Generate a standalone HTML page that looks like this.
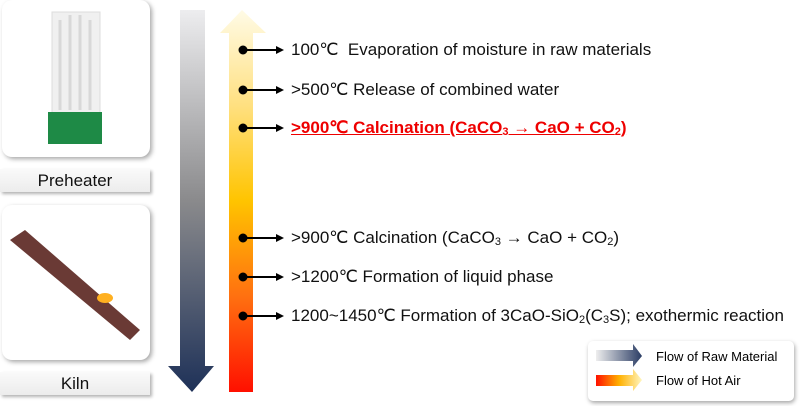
<!DOCTYPE html>
<html><head><meta charset="utf-8"><style>
body{margin:0;width:800px;height:406px;background:#fff;position:relative;overflow:hidden;font-family:"Liberation Sans",sans-serif}
.card{position:absolute;background:#fff;border-radius:10px;box-shadow:2px 2px 5px rgba(0,0,0,.35)}
.lab{position:absolute;background:linear-gradient(#fafafa,#ececec);box-shadow:2px 2px 3px rgba(0,0,0,.3);font-size:17px;text-align:center;color:#111}
.t{position:absolute;left:291px;font-size:17px;color:#111;white-space:nowrap}
sub{font-size:11px;vertical-align:-2px}
</style></head><body>
<div class="card" style="left:2px;top:0;width:148px;height:157px"></div>
<div class="lab" style="left:0;top:169px;width:150px;height:23px;line-height:23px">Preheater</div>
<div class="card" style="left:2px;top:205px;width:148px;height:155px"></div>
<div class="lab" style="left:0;top:372px;width:150px;height:23px;line-height:23px">Kiln</div>
<svg width="800" height="406" style="position:absolute;left:0;top:0">
<defs>
<linearGradient id="g" x1="0" y1="0" x2="0" y2="1"><stop offset="0" stop-color="#ededef"/><stop offset=".5" stop-color="#8a8a8c"/><stop offset="1" stop-color="#1e3158"/></linearGradient>
<linearGradient id="h" x1="0" y1="0" x2="0" y2="1"><stop offset="0" stop-color="#fffbe6"/><stop offset=".25" stop-color="#ffe080"/><stop offset=".5" stop-color="#ffc400"/><stop offset=".75" stop-color="#ff7010"/><stop offset="1" stop-color="#ff1000"/></linearGradient>
<linearGradient id="lg" x1="0" x2="1"><stop offset="0" stop-color="#eee"/><stop offset="1" stop-color="#2a3c64"/></linearGradient>
<linearGradient id="lh" x1="0" x2="1"><stop offset="0" stop-color="#ff1000"/><stop offset=".5" stop-color="#ffb000"/><stop offset="1" stop-color="#fff6c0"/></linearGradient>
</defs>
<!-- preheater -->
<rect x="52" y="12" width="48" height="105" fill="#f0f0f0" stroke="#ddd"/>
<path d="M60 20 V110 M70 15 V110 M80 15 V110 M90 20 V110" stroke="#d8d8d8" stroke-width="3"/>
<rect x="48" y="112" width="54" height="32" fill="#1e8a46"/>
<!-- kiln -->
<polygon points="10,240 25,230 140,330 130,340" fill="#6a3a35"/>
<ellipse cx="105" cy="298" rx="8" ry="5" fill="#ffb020"/>
<polygon points="180,10 205,10 205,366 214,366 192,392 168,366 180,366" fill="url(#g)"/>
<polygon points="242,10 266,33 253,33 253,392 229,392 229,33 220,33" fill="url(#h)"/>
<g stroke="#000" stroke-width="2" fill="#000">
<g id="a"><circle cx="243" cy="50" r="3.5"/><line x1="243" y1="50" x2="276" y2="50"/><polygon points="276,46 284,50 276,54" stroke="none"/></g>
<use href="#a" y="40"/><use href="#a" y="78"/><use href="#a" y="188"/><use href="#a" y="227"/><use href="#a" y="266"/>
</g>
<rect x="588" y="341" width="206" height="60" rx="5" fill="#fff" style="filter:drop-shadow(1px 2px 2px rgba(0,0,0,.35))"/>
<polygon points="596,350 633,350 633,344 642,356 633,367 633,361 596,361" fill="url(#lg)"/>
<polygon points="596,375 633,375 633,369 642,380 633,391 633,386 596,386" fill="url(#lh)"/>
<text x="656" y="361" font-size="13" font-family="Liberation Sans">Flow of Raw Material</text>
<text x="656" y="385" font-size="13" font-family="Liberation Sans">Flow of Hot Air</text>
</svg>
<div class="t" style="top:40px">100℃&nbsp; Evaporation of moisture in raw materials</div>
<div class="t" style="top:80px">&gt;500℃ Release of combined water</div>
<div class="t" style="top:118px;color:#e00;font-weight:bold;text-decoration:underline">&gt;900℃ Calcination (CaCO<sub>3</sub> → CaO + CO<sub>2</sub>)</div>
<div class="t" style="top:228px">&gt;900℃ Calcination (CaCO<sub>3</sub> → CaO + CO<sub>2</sub>)</div>
<div class="t" style="top:267px">&gt;1200℃ Formation of liquid phase</div>
<div class="t" style="top:306px">1200~1450℃ Formation of 3CaO-SiO<sub>2</sub>(C<sub>3</sub>S); exothermic reaction</div>
</body></html>
